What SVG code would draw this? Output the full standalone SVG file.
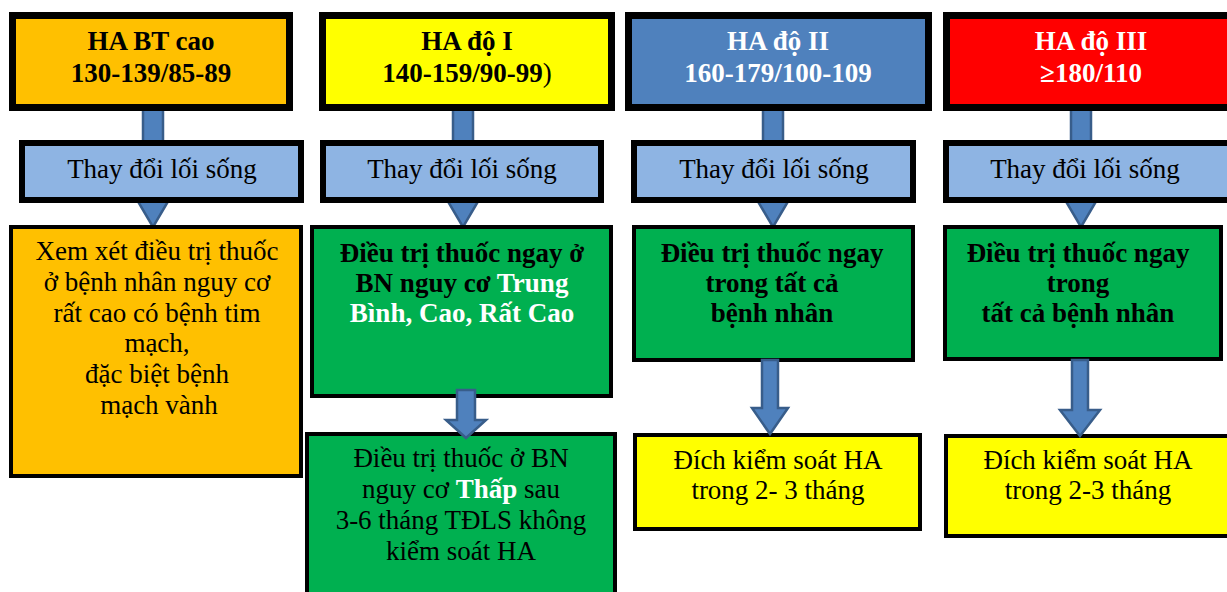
<svg xmlns="http://www.w3.org/2000/svg" width="1227" height="592" viewBox="0 0 1227 592">
<style>
text{font-family:"Liberation Serif","Times New Roman",serif;font-size:27px;text-anchor:middle;fill:#000}
.b{font-weight:bold}
.w{fill:#fff}
.top{stroke:#000;stroke-width:7}
.mid{fill:#8EB4E3;stroke:#000;stroke-width:6}
.low{stroke:#000;stroke-width:4}
.arr{fill:#4F81BD;stroke:#385D8A;stroke-width:2.5}
</style>
<rect width="1227" height="592" fill="#fff"/>
<g id="connectors">
<path class="arr" d="M143 108 L163 108 L163 193 L173 193 L153 227 L133 193 L143 193 Z"/>
<path class="arr" d="M453 108 L473 108 L473 193 L483 193 L463 227 L443 193 L453 193 Z"/>
<path class="arr" d="M763 108 L783 108 L783 193 L793 193 L773 227 L753 193 L763 193 Z"/>
<path class="arr" d="M1071 108 L1091 108 L1091 193 L1101 193 L1081 227 L1061 193 L1071 193 Z"/>
</g>
<g id="n1-top"><rect class="top" x="12.5" y="15.5" width="277" height="92" fill="#FFC000"/>
<text class="b" x="151" y="50">HA BT cao</text><text class="b" x="151" y="82">130-139/85-89</text></g>
<g id="n2-top"><rect class="top" x="322.5" y="15.5" width="289" height="92" fill="#FFFF00"/>
<text class="b" x="467" y="50">HA độ I</text><text class="b" x="467" y="82">140-159/90-99<tspan font-weight="normal">)</tspan></text></g>
<g id="n3-top"><rect class="top" x="628.5" y="15.5" width="300" height="92" fill="#4F81BD"/>
<text class="b w" x="778" y="50">HA độ II</text><text class="b w" x="778" y="82">160-179/100-109</text></g>
<g id="n4-top"><rect class="top" x="946.5" y="15.5" width="290" height="92" fill="#FF0000"/>
<text class="b w" x="1091" y="50">HA độ III</text><text class="b w" x="1091" y="82">≥180/110</text></g>
<g id="n1-life"><rect class="mid" x="22" y="143" width="279" height="57"/><text x="162" y="178">Thay đổi lối sống</text></g>
<g id="n2-life"><rect class="mid" x="323" y="143" width="278" height="57"/><text x="462" y="178">Thay đổi lối sống</text></g>
<g id="n3-life"><rect class="mid" x="634" y="143" width="279" height="57"/><text x="774" y="178">Thay đổi lối sống</text></g>
<g id="n4-life"><rect class="mid" x="946" y="143" width="290" height="57"/><text x="1085" y="178">Thay đổi lối sống</text></g>
<g id="n1-treat"><rect class="low" x="11" y="227" width="290" height="249" fill="#FFC000"/>
<text x="157" y="260">Xem xét điều trị thuốc</text>
<text x="157" y="291">ở bệnh nhân nguy cơ</text>
<text x="157" y="322">rất cao có bệnh tim</text>
<text x="157" y="352">mạch,</text>
<text x="157" y="383">đặc biệt bệnh</text>
<text x="159" y="414">mạch vành</text></g>
<g id="n2-treat"><rect class="low" x="312" y="227" width="299" height="169" fill="#00B050"/>
<text class="b" x="462" y="262">Điều trị thuốc ngay ở</text>
<text class="b" x="462" y="292">BN nguy cơ <tspan class="w">Trung</tspan></text>
<text class="b w" x="462" y="322">Bình, Cao, Rất Cao</text></g>
<g id="n2-low"><rect class="low" x="307" y="434" width="308" height="170" fill="#00B050"/>
<text x="461" y="467">Điều trị thuốc ở BN</text>
<text x="461" y="498">nguy cơ <tspan class="b w">Thấp</tspan> sau</text>
<text x="461" y="529">3-6 tháng TĐLS không</text>
<text x="461" y="560">kiểm soát HA</text></g>
<g id="n3-treat"><rect class="low" x="634" y="227" width="279" height="133" fill="#00B050"/>
<text class="b" x="772" y="262">Điều trị thuốc ngay</text>
<text class="b" x="772" y="292">trong tất cả</text>
<text class="b" x="772" y="322">bệnh nhân</text></g>
<g id="n4-treat"><rect class="low" x="945" y="227" width="276" height="132" fill="#00B050"/>
<text class="b" x="1078" y="262">Điều trị thuốc ngay</text>
<text class="b" x="1078" y="292">trong</text>
<text class="b" x="1078" y="322">tất cả bệnh nhân</text></g>
<g id="n3-goal"><rect class="low" x="635" y="435" width="285" height="94" fill="#FFFF00"/>
<text x="778" y="469">Đích kiểm soát HA</text>
<text x="778" y="499">trong 2- 3 tháng</text></g>
<g id="n4-goal"><rect class="low" x="946" y="436" width="290" height="100" fill="#FFFF00"/>
<text x="1088" y="469">Đích kiểm soát HA</text>
<text x="1088" y="499">trong 2-3 tháng</text></g>
<g id="connectors-lower">
<path class="arr" d="M457 390 L475 390 L475 420 L486 420 L466 438 L446 420 L457 420 Z"/>
<path class="arr" d="M762 360 L778 360 L778 408 L788 408 L770 434 L752 408 L762 408 Z"/>
<path class="arr" d="M1072 360 L1088 360 L1088 410 L1100 410 L1080 436 L1060 410 L1072 410 Z"/>
</g>
</svg>
